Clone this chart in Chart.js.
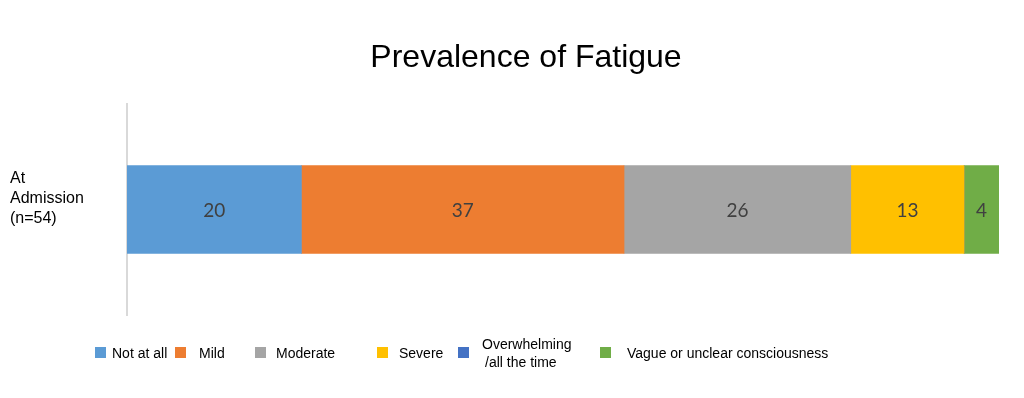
<!DOCTYPE html>
<html>
<head>
<meta charset="utf-8">
<script src="https://cdn.jsdelivr.net/npm/chart.js@4"></script>
<style>
  html, body { margin: 0; padding: 0; background: #fff; }
  #wrap { position: relative; width: 1024px; height: 398px; }
  #legend { position: absolute; left: 0; top: 0; width: 1024px; height: 398px; pointer-events: none;
    font-family: "Liberation Sans", Arial, sans-serif; font-size: 14px; color: #000; }
  .item { position: absolute; top: 347px; display: flex; align-items: flex-start; }
  .box { width: 11px; height: 11px; }
  .txt { line-height: 18px; margin-top: -3px; }
</style>
</head>
<body>
<div id="wrap">
  <canvas id="chart" width="1024" height="398"></canvas>
  <div id="legend"></div>
</div>
<script>
// Dados do gráfico
const chartTitle = 'Prevalence of Fatigue';
const categories = [['At', 'Admission', '(n=54)']];
const seriesNames = ['Not at all', 'Mild', 'Moderate', 'Severe', 'Overwhelming\n/all the time', 'Vague or unclear consciousness'];
const seriesValues = [[20], [37], [26], [13], [0], [4]];
const seriesColors = ['#5b9bd5', '#ed7d31', '#a5a5a5', '#ffc000', '#4472c4', '#70ad47'];

// Posições da legenda (x da caixa e distância até o texto)
const legendX = [95, 175, 255, 377, 458, 600];
const legendGap = [6, 13, 10, 11, 13, 16];

// Título desenhado à mão (fica um pouco à direita do centro no original)
const titlePlugin = {
  id: 'titlePlugin',
  afterDraw(chart) {
    const ctx = chart.ctx;
    ctx.save();
    ctx.font = '32px "Liberation Sans", Arial, sans-serif';
    ctx.fillStyle = '#000';
    ctx.textAlign = 'center';
    ctx.textBaseline = 'alphabetic';
    ctx.fillText(chartTitle, 526, 67);
    ctx.restore();
  }
};

// Rótulos de valor dentro das barras
const valueLabels = {
  id: 'valueLabels',
  afterDatasetsDraw(chart) {
    const ctx = chart.ctx;
    ctx.save();
    ctx.font = '19px Lato, "Open Sans", sans-serif';
    ctx.fillStyle = '#404040';
    ctx.textAlign = 'center';
    ctx.textBaseline = 'middle';
    chart.data.datasets.forEach((ds, i) => {
      chart.getDatasetMeta(i).data.forEach((bar, j) => {
        const v = ds.data[j];
        if (!v) return;
        const p = bar.getCenterPoint();
        ctx.fillText(String(v), p.x, p.y + 1);
      });
    });
    ctx.restore();
  }
};

new Chart(document.getElementById('chart'), {
  type: 'bar',
  data: {
    labels: categories,
    datasets: seriesNames.map((name, i) => ({
      label: name,
      data: seriesValues[i],
      backgroundColor: seriesColors[i],
      borderWidth: 0,
      barThickness: 88
    }))
  },
  options: {
    indexAxis: 'y',
    responsive: false,
    animation: false,
    layout: { padding: { left: 10, right: 25, top: 104, bottom: 83 } },
    plugins: {
      legend: { display: false },
      tooltip: { enabled: false },
      title: { display: false }
    },
    scales: {
      x: { stacked: true, min: 0, max: 100, display: false },
      y: {
        stacked: true,
        afterFit: s => { s.width = 117; },
        grid: { display: false },
        border: { display: true, color: '#d9d9d9', width: 2 },
        ticks: {
          crossAlign: 'far',
          color: '#000',
          labelOffset: -11,
          font: { family: '"Liberation Sans", Arial, sans-serif', size: 16, lineHeight: 1.25 },
          padding: 0
        }
      }
    }
  },
  plugins: [valueLabels, titlePlugin]
});

// Legenda em HTML
const legend = document.getElementById('legend');
seriesNames.forEach((name, i) => {
  const item = document.createElement('div');
  item.className = 'item';
  item.style.left = legendX[i] + 'px';
  const box = document.createElement('div');
  box.className = 'box';
  box.style.background = seriesColors[i];
  const txt = document.createElement('div');
  txt.className = 'txt';
  txt.style.marginLeft = legendGap[i] + 'px';
  const lines = name.split('\n');
  if (lines.length > 1) txt.style.marginTop = '-12px';
  lines.forEach((l, k) => {
    const d = document.createElement('div');
    d.textContent = l;
    if (k > 0) d.style.paddingLeft = '3px';
    txt.appendChild(d);
  });
  item.appendChild(box);
  item.appendChild(txt);
  legend.appendChild(item);
});
</script>
</body>
</html>
